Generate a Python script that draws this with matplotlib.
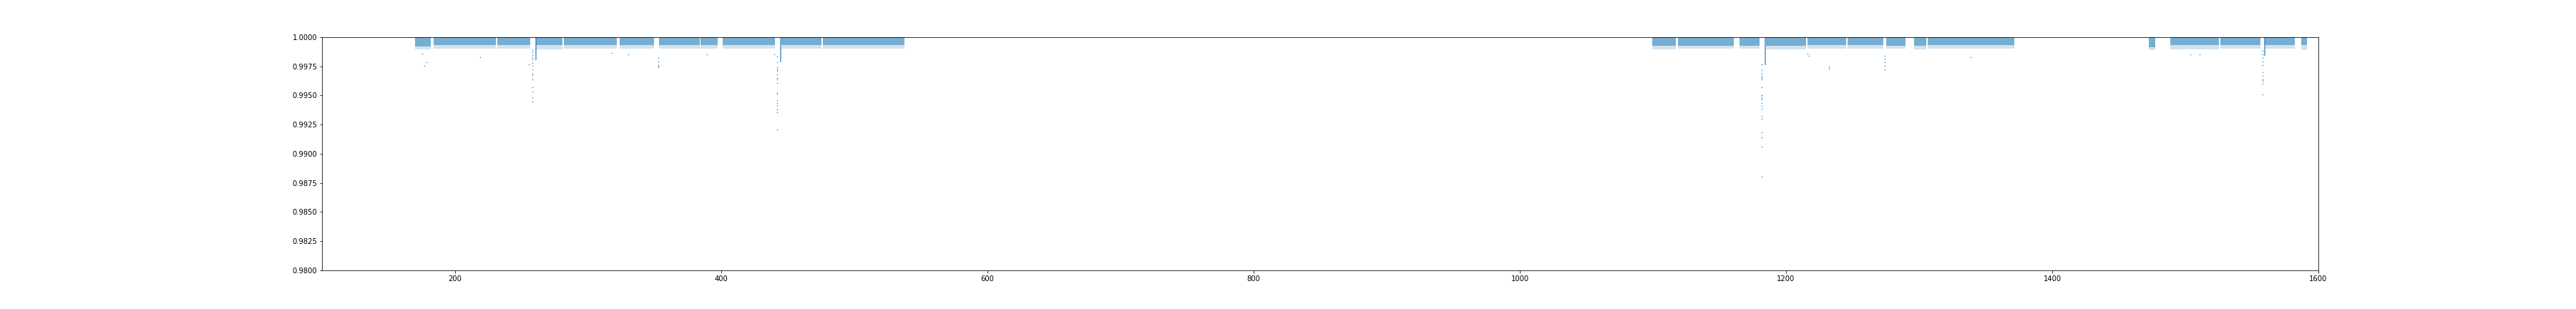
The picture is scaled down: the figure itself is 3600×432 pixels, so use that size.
import numpy as np
import matplotlib
matplotlib.use("Agg")
import matplotlib.pyplot as plt
from matplotlib.ticker import FormatStrFormatter

# observing segments (time), with lower level of the dense core and of the sparse fringe
seg_start = [170.0, 184.0, 231.7, 260.8, 281.7, 323.7, 353.2, 384.4, 401.0, 445.0, 476.3,
             1099.5, 1118.8, 1165.0, 1185.2, 1216.1, 1246.1, 1275.3, 1296.2, 1306.5,
             1472.4, 1488.5, 1526.5, 1559.7, 1587.1]
seg_end = [181.7, 230.6, 256.5, 280.6, 321.7, 349.5, 383.9, 397.3, 440.3, 475.3, 537.6,
           1117.2, 1160.9, 1180.1, 1215.2, 1245.2, 1272.9, 1289.6, 1305.6, 1371.5,
           1477.6, 1525.3, 1556.6, 1582.1, 1591.4]
seg_core = [0.99920, 0.99932, 0.99932, 0.99930, 0.99932, 0.99932, 0.99932, 0.99930, 0.99932, 0.99932, 0.99932,
            0.99925, 0.99928, 0.99928, 0.99928, 0.99930, 0.99930, 0.99928, 0.99928, 0.99930,
            0.99915, 0.99930, 0.99930, 0.99930, 0.99930]
seg_edge = [0.99895, 0.99900, 0.99900, 0.99895, 0.99900, 0.99900, 0.99900, 0.99900, 0.99900, 0.99900, 0.99900,
            0.99895, 0.99900, 0.99900, 0.99895, 0.99900, 0.99900, 0.99900, 0.99895, 0.99900,
            0.99890, 0.99895, 0.99900, 0.99900, 0.99890]

# short dense dips next to the transits
dense_t = [260.8, 444.8, 1184.2, 1559.9]
dense_low = [0.99802, 0.99783, 0.99757, 0.99839]

# transit points
dip_t = ([258.2] * 15 + [352.7] * 5 + [442.1] * 17 + [1181.7] * 20 + [1274.2] * 5 + [1557.9] * 11)
dip_f = [0.99886, 0.99868, 0.99846, 0.99830, 0.99810, 0.99777, 0.99753, 0.99722, 0.99685,
         0.99673, 0.99636, 0.99569, 0.99532, 0.99483, 0.99446,
         0.99822, 0.99791, 0.99761, 0.99753, 0.99741,
         0.99832, 0.99783, 0.99741, 0.99724, 0.99710, 0.99679, 0.99649, 0.99640, 0.99606,
         0.99520, 0.99514, 0.99460, 0.99434, 0.99415, 0.99378, 0.99354, 0.99206,
         0.99765, 0.99716, 0.99687, 0.99661, 0.99648, 0.99636, 0.99569, 0.99505, 0.99497,
         0.99476, 0.99464, 0.99433, 0.99409, 0.99385, 0.99323, 0.99299, 0.99182, 0.99139,
         0.99060, 0.98802,
         0.99837, 0.99818, 0.99787, 0.99753, 0.99726,
         0.99880, 0.99850, 0.99820, 0.99790, 0.99761, 0.99697, 0.99665, 0.99636, 0.99628,
         0.99600, 0.99507]

# isolated points below the band
out_t = [175.3, 176.9, 178.7, 219.0, 255.6, 317.7, 330.0, 389.2, 439.6,
         1216.0, 1217.0, 1232.3, 1232.3, 1338.9, 1504.0, 1510.8]
out_f = [0.99858, 0.99755, 0.99783, 0.99827, 0.99765, 0.99863, 0.99853, 0.99853, 0.99853,
         0.99860, 0.99839, 0.99746, 0.99730, 0.99826, 0.99853, 0.99853]

col = "#1f77b4"

fig = plt.figure(figsize=(50, 6), dpi=72)
ax = fig.add_subplot(111)
fig.subplots_adjust(left=0.125, right=0.9, top=0.88, bottom=0.125)

for s, e, c, d in zip(seg_start, seg_end, seg_core, seg_edge):
    ax.fill_between([s, e], c, 1.0, color=col, alpha=0.6, lw=0)
    ax.fill_between([s, e], d, c, color=col, alpha=0.2, lw=0)

for t, lo in zip(dense_t, dense_low):
    ax.fill_between([t - 0.5, t + 0.5], lo, 1.0, color=col, alpha=0.6, lw=0)

ax.scatter(dip_t, dip_f, s=2, color=col, lw=0)
ax.scatter(out_t, out_f, s=2, color=col, lw=0)

ax.set_xlim(100, 1600)
ax.set_ylim(0.98, 1.0)
ax.set_yticks(np.arange(0.98, 1.0001, 0.0025))
ax.yaxis.set_major_formatter(FormatStrFormatter("%.4f"))

fig.savefig("out.png", dpi=72)
